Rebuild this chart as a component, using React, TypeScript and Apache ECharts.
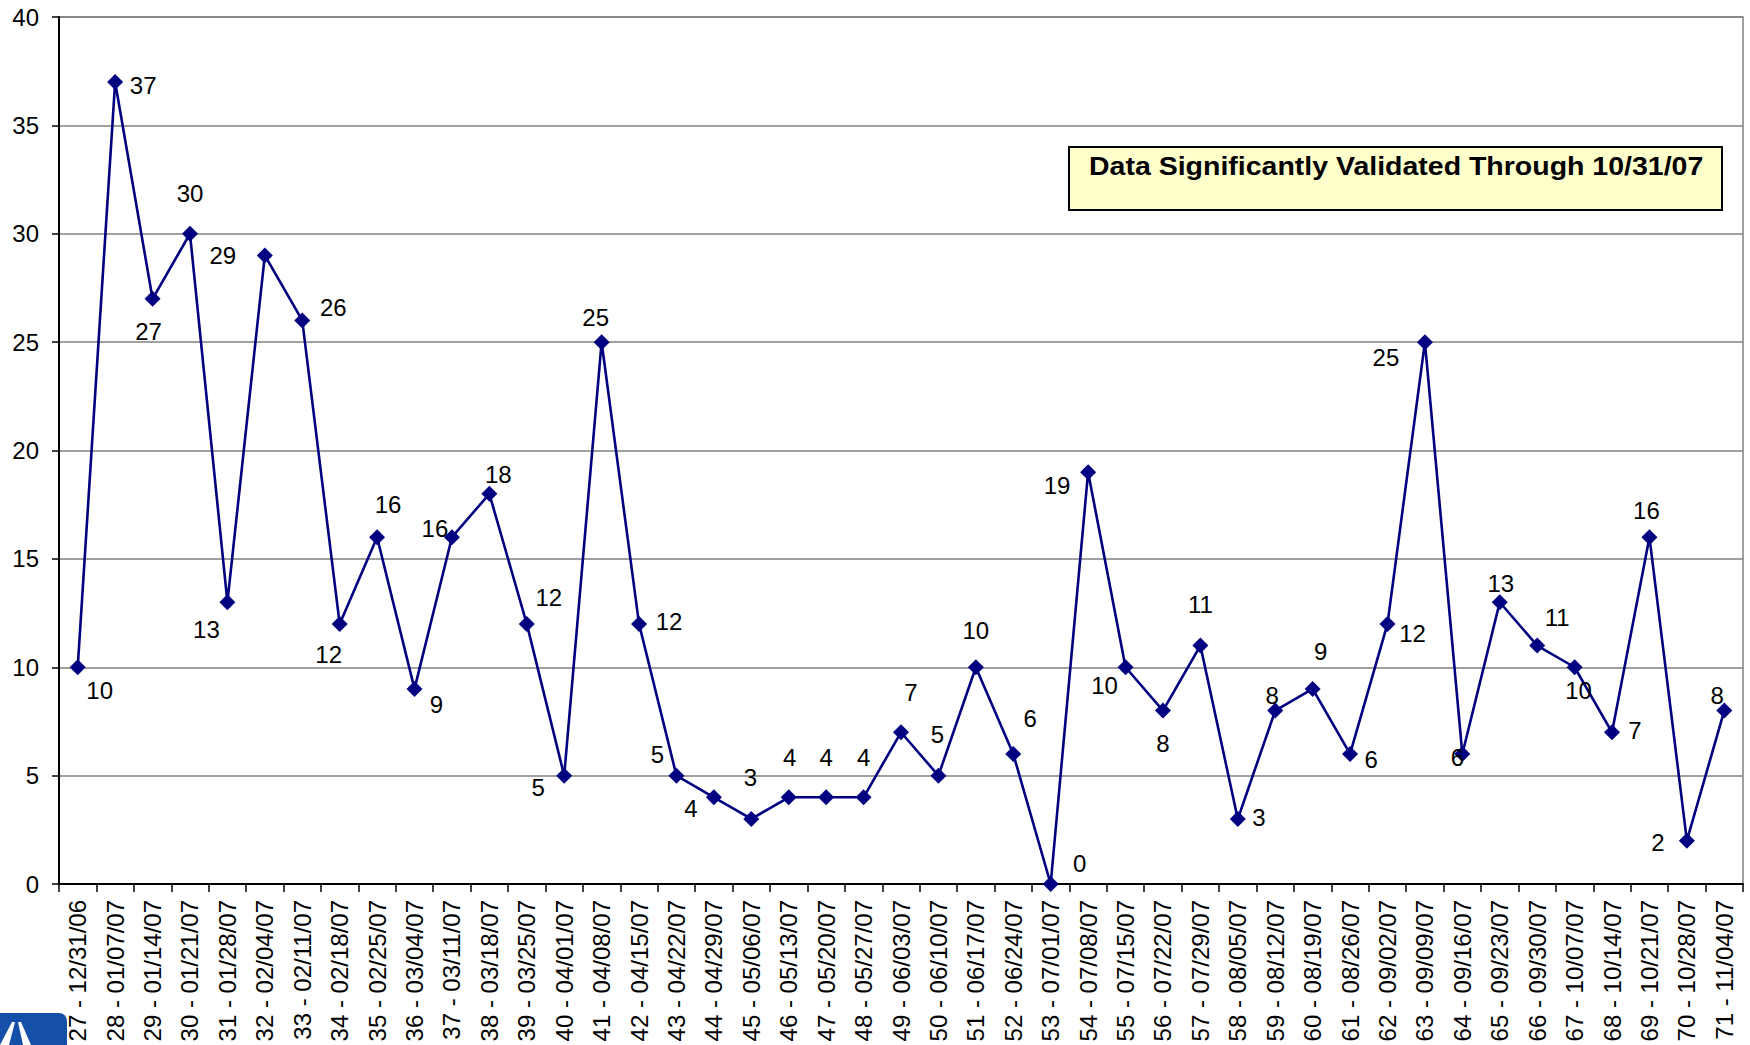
import React, { useEffect, useRef } from "react";
import * as echarts from "echarts";

const weekNumbers = [
  27, 28, 29, 30, 31, 32, 33, 34, 35, 36, 37, 38, 39, 40, 41, 42, 43, 44, 45, 46, 47, 48, 49,
  50, 51, 52, 53, 54, 55, 56, 57, 58, 59, 60, 61, 62, 63, 64, 65, 66, 67, 68, 69, 70, 71,
];
const weekEndings = [
  "12/31/06", "01/07/07", "01/14/07", "01/21/07", "01/28/07", "02/04/07", "02/11/07",
  "02/18/07", "02/25/07", "03/04/07", "03/11/07", "03/18/07", "03/25/07", "04/01/07",
  "04/08/07", "04/15/07", "04/22/07", "04/29/07", "05/06/07", "05/13/07", "05/20/07",
  "05/27/07", "06/03/07", "06/10/07", "06/17/07", "06/24/07", "07/01/07", "07/08/07",
  "07/15/07", "07/22/07", "07/29/07", "08/05/07", "08/12/07", "08/19/07", "08/26/07",
  "09/02/07", "09/09/07", "09/16/07", "09/23/07", "09/30/07", "10/07/07", "10/14/07",
  "10/21/07", "10/28/07", "11/04/07",
];
const counts = [
  10, 37, 27, 30, 13, 29, 26, 12, 16, 9, 16, 18, 12, 5, 25, 12, 5, 4, 3, 4, 4, 4, 7, 5, 10, 6,
  0, 19, 10, 8, 11, 3, 8, 9, 6, 12, 25, 6, 13, 11, 10, 7, 16, 2, 8,
];
const yTicks = { min: 0, max: 40, interval: 5 };
const noteText = "Data Significantly Validated Through 10/31/07";

// layout: data label offsets (px) relative to each marker, as placed in the original
const labelOffsets: [number, number][] = [
  [22, 23], [28, 3], [-4, 33], [0, -40], [-21, 27], [-42, 0], [31, -13], [-11, 31], [11, -33],
  [22, 16], [-17, -9], [9, -19], [22, -26], [-26, 12], [-6, -25], [30, -2], [-19, -21],
  [-23, 11], [-1, -41], [1, -40], [0, -40], [0, -40], [10, -40], [-1, -41], [0, -37],
  [17, -35], [29, -21], [-31, 13], [-21, 18], [0, 33], [0, -41], [21, -1], [-3, -15],
  [8, -37], [21, 6], [25, 10], [-39, 15], [-5, 4], [1, -19], [20, -28], [4, 23], [23, -2],
  [-3, -27], [-29, 2], [-7, -15],
];

const FONT = "'Liberation Sans', Arial, sans-serif";

export default function App() {
  const ref = useRef<HTMLDivElement>(null);
  useEffect(() => {
    if (!ref.current) return;
    const chart = echarts.init(ref.current, undefined, { renderer: "svg" });
    const categories = weekNumbers.map((n, i) => `${n} - ${weekEndings[i]}`);
    const data = counts.map((v, i) => ({
      value: v,
      label: { offset: labelOffsets[i] },
    }));
    chart.setOption({
      animation: false,
      backgroundColor: "#ffffff",
      textStyle: { fontFamily: FONT },
      grid: {
        left: 59,
        right: 7,
        top: 17,
        bottom: 161,
        show: true,
        borderColor: "#808080",
        borderWidth: 1.5,
        backgroundColor: "transparent",
      },
      xAxis: {
        type: "category",
        data: categories,
        boundaryGap: true,
        axisLine: { show: true, lineStyle: { color: "#000", width: 2 } },
        axisTick: { show: true, interval: 0, length: 8, lineStyle: { color: "#000", width: 1.5 } },
        axisLabel: {
          interval: 0,
          rotate: 90,
          fontSize: 24,
          margin: 16,
          color: "#000",
          fontFamily: FONT,
        },
        splitLine: { show: false },
      },
      yAxis: {
        type: "value",
        min: yTicks.min,
        max: yTicks.max,
        interval: yTicks.interval,
        axisLine: { show: true, lineStyle: { color: "#000", width: 2 } },
        axisTick: { show: true, length: 7, lineStyle: { color: "#000", width: 1.5 } },
        axisLabel: { fontSize: 24, margin: 20, color: "#000", fontFamily: FONT },
        splitLine: { show: true, lineStyle: { color: "#808080", width: 1.5 } },
      },
      series: [
        {
          type: "line",
          data,
          symbol: "diamond",
          symbolSize: 16,
          lineStyle: { color: "#000080", width: 2.6 },
          itemStyle: { color: "#000080" },
          label: {
            show: true,
            position: "inside",
            fontSize: 24,
            color: "#000",
            fontFamily: FONT,
          },
          z: 3,
        },
      ],
      graphic: [
        {
          type: "rect",
          shape: { x: 1069, y: 147, width: 653, height: 63 },
          style: { fill: "#FFFFCC", stroke: "#000", lineWidth: 2 },
          z: 10,
        },
        {
          type: "text",
          x: 1089,
          y: 167,
          scaleX: 1.14,
          style: {
            text: noteText,
            fontSize: 25,
            fontWeight: "bold",
            fontFamily: FONT,
            fill: "#000",
            verticalAlign: "middle",
            align: "left",
          },
          z: 11,
        },
        {
          type: "rect",
          shape: { x: 0, y: 1013, width: 67, height: 32, r: [0, 8, 0, 0] },
          style: { fill: "#1450A8" },
          z: 10,
        },
        {
          type: "polygon",
          shape: { points: [[0, 1045], [9, 1045], [15, 1022], [12, 1022]] },
          style: { fill: "#ffffff" },
          z: 11,
        },
        {
          type: "polygon",
          shape: { points: [[18, 1022], [21, 1022], [31, 1045], [23, 1045]] },
          style: { fill: "#ffffff" },
          z: 11,
        },
      ],
    });
    return () => chart.dispose();
  }, []);
  return (
    <div
      ref={ref}
      style={{ position: "fixed", left: 0, top: 0, width: 1750, height: 1045 }}
    />
  );
}
